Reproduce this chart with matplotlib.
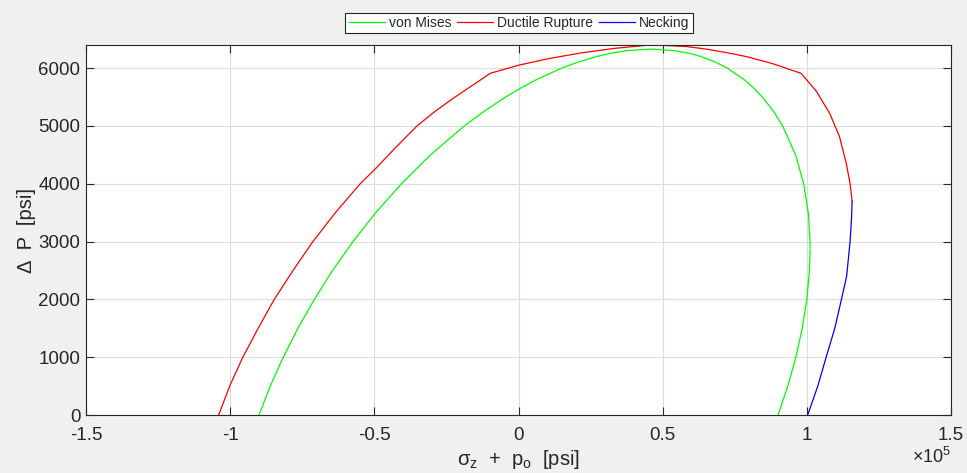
import numpy as np
import matplotlib
matplotlib.use("Agg")
import matplotlib.pyplot as plt
from matplotlib.ticker import FuncFormatter

plt.rcParams['font.family'] = ['Liberation Sans', 'DejaVu Sans']
plt.rcParams['mathtext.fontset'] = 'custom'
plt.rcParams['mathtext.rm'] = 'Liberation Sans'
plt.rcParams['mathtext.it'] = 'Liberation Sans'
plt.rcParams['mathtext.default'] = 'regular'
plt.rcParams['axes.unicode_minus'] = False

# ---- data (x in psi, y in psi) ----
vm_x = [-90000, -86100, -81600, -76500, -70800, -64500, -57400, -49500, -40600,
        -30500, -18800, -12000, -4500, 600, 6200, 15000, 20400, 27000, 31300,
        37200, 46100, 54600, 59800, 63300, 68500, 72400, 78300, 81700, 84600,
        88500, 91600, 96100, 98900, 100500, 101100, 101140,
        np.nan,
        101140, 100900, 100000, 98400, 96200, 93400, 90000]
vm_y = [0, 500, 1000, 1500, 2000, 2500, 3000, 3500, 4000,
        4500, 5000, 5250, 5500, 5650, 5800, 6000, 6100, 6200, 6250,
        6300, 6330, 6300, 6250, 6200, 6100, 6000, 5800, 5650, 5500,
        5250, 5000, 4500, 4000, 3500, 3000, 2890,
        np.nan,
        2860, 2500, 2000, 1500, 1000, 500, 0]

dr_x = [-104000, -100000, -95600, -90300, -84700, -78200, -71300, -63500,
        -54900, -50000, -43500, -35200, -29000, -22600, -16000, -9800, 0,
        10000, 21300, 33000, 44400, 50000, 58000, 65000, 72000, 79000, 88000,
        98000, 103300, 107900, 111300, 113700, 115000, 115700]
dr_y = [0, 520, 1000, 1500, 2000, 2500, 3000, 3500,
        4000, 4240, 4580, 5000, 5250, 5480, 5700, 5910, 6050,
        6160, 6260, 6340, 6395, 6393, 6375, 6330, 6270, 6200, 6080,
        5910, 5600, 5220, 4820, 4350, 4000, 3700]

nk_x = [115700, 115500, 115000, 113800, 112000, 109700, 106700, 103800, 100300]
nk_y = [3700, 3400, 3000, 2400, 2000, 1500, 1000, 500, 0]

xticks = [-150000, -100000, -50000, 0, 50000, 100000, 150000]
yticks = [0, 1000, 2000, 3000, 4000, 5000, 6000]

fig = plt.figure(figsize=(9.67, 4.73), dpi=100, facecolor='#f0f0f0')
ax = fig.add_axes([86/967, 1-415/473, (951-86)/967, (415-45)/473])
ax.set_facecolor('white')

lw = 0.9
ax.plot(vm_x, vm_y, color=(0, 1, 0), lw=lw, label='von Mises')
ax.plot(dr_x, dr_y, color=(1, 0, 0), lw=lw, label='Ductile Rupture')
ax.plot(nk_x, nk_y, color=(0, 0, 1), lw=lw, label='Necking')

ax.set_xlim(-150000, 150000)
ax.set_ylim(0, 6400)
ax.set_xticks(xticks)
ax.set_yticks(yticks)
ax.xaxis.set_major_formatter(FuncFormatter(lambda v, p: '%g' % (v / 1e5)))
ax.yaxis.set_major_formatter(FuncFormatter(lambda v, p: '%d' % v))

edge = '#262626'
for s in ax.spines.values():
    s.set_color(edge)
    s.set_linewidth(0.8)
ax.tick_params(direction='in', length=6, width=0.8, color=edge,
               labelcolor=edge, labelsize=13.5, top=True, right=True)
ax.tick_params(axis='x', pad=8.5)
ax.tick_params(axis='y', pad=4)
ax.grid(True, color='#dcdcdc', lw=0.8)
ax.set_axisbelow(True)

ax.set_xlabel(r'$\sigma_z$  +  $p_o$  [psi]', fontsize=14.5, color=edge, labelpad=3)
ax.set_ylabel('Δ  P  [psi]', fontsize=14.5, color=edge, labelpad=1.5)
fig.text(951/967, 1-457/473, r'×10$^5$', ha='right', va='center',
         fontsize=13, color=edge)

leg = fig.legend(loc='center', bbox_to_anchor=(519/967, 1-23/473), ncol=3,
                 fontsize=10, frameon=True, fancybox=False, framealpha=1,
                 edgecolor=edge, borderpad=0.25, handlelength=2.6,
                 handletextpad=0.25, columnspacing=0.45, borderaxespad=0)
leg.get_frame().set_linewidth(0.8)
for t in leg.get_texts():
    t.set_color(edge)

fig.savefig('out.png', dpi=100, facecolor=fig.get_facecolor())
